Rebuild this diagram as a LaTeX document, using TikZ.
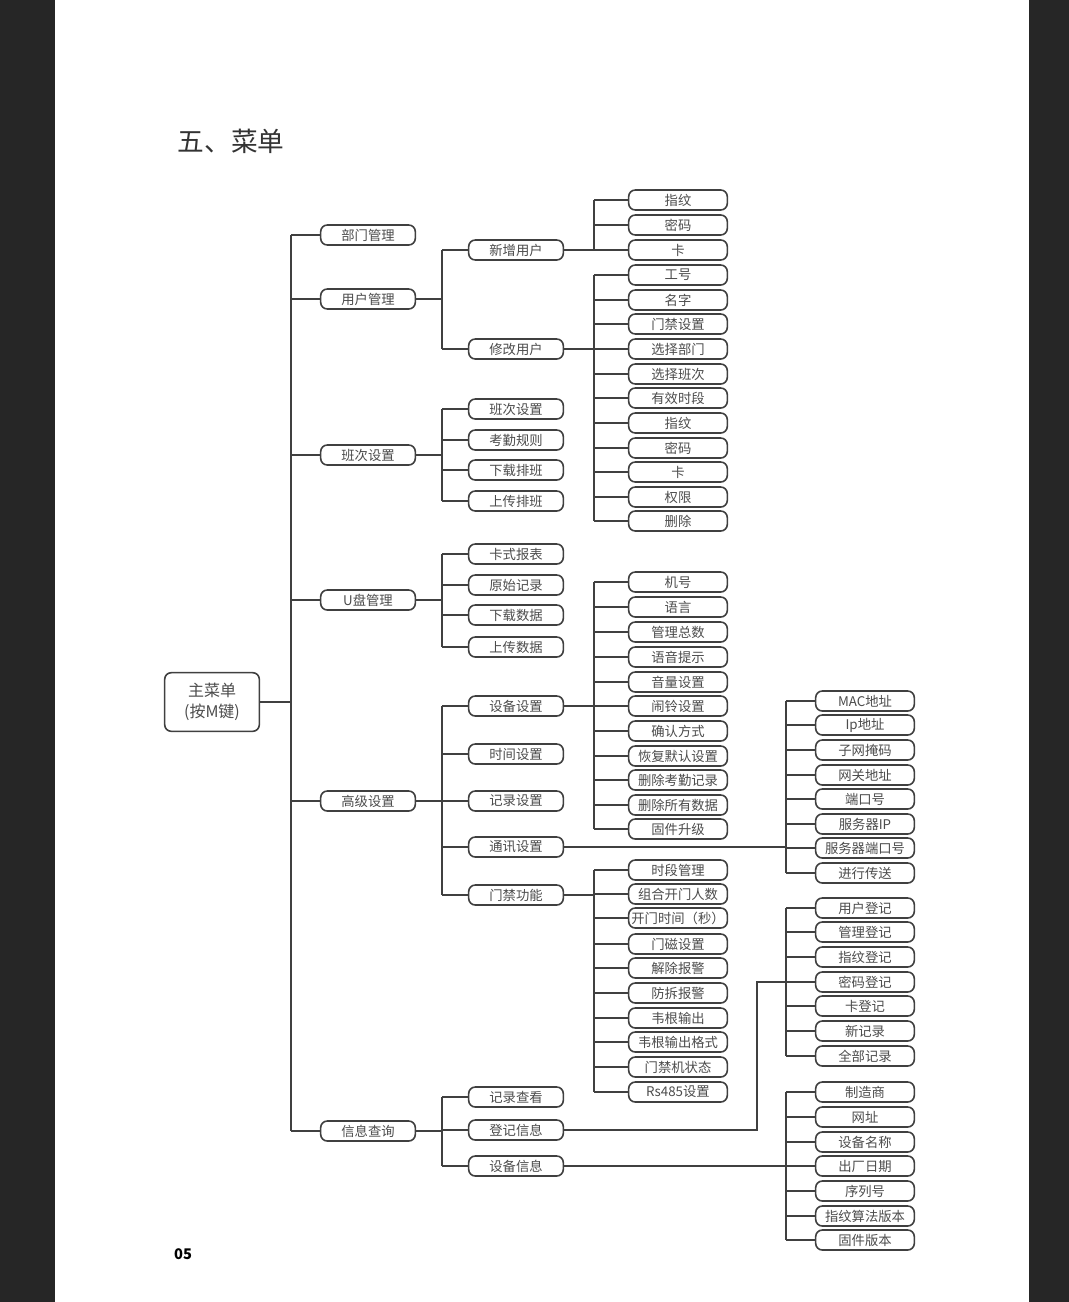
\documentclass[tikz,border=0pt]{standalone}
\usepackage{fontspec}
\setmainfont{Noto Sans CJK SC}
\usetikzlibrary{calc}
\tikzset{
 bx/.style={draw=black!75,line width=1.2pt,rounded corners=5pt,fill=white,text=black!70,font=\fontsize{10}{11}\selectfont,inner sep=0pt,minimum height=15pt},
 l1/.style={bx,minimum width=71pt},
 l2/.style={bx,minimum width=71pt},
 l3/.style={bx,minimum width=74pt},
 ln/.style={draw=black!75,line width=1pt}
}
\newcommand\Fan[5]{%
 \foreach \t/\y [count=\i] in {#5} {
  \node[#4] (#1\i) at (#3,\y) {\t};
  \draw[ln] (#1\i.west -| #2) -- (#1\i.west);
  \xdef\lastn{\i}
 }
 \draw[ln] (#2 |- #11.west) -- (#2 |- #1\lastn.west);
}
\begin{document}
\begin{tikzpicture}[x=0.75pt,y=-0.75pt]
\fill[black!85] (0,0) rectangle (1069,1302);
\fill[white] (55,0) rectangle (1029,1302);
\useasboundingbox (0,0) rectangle (1069,1302);
\node[font=\fontsize{20}{22}\selectfont,text=black!80] (title) at (231,141) {五、菜单};
\node[font=\bfseries\fontsize{11}{12}\selectfont] (pg) at (183,1254) {05};
\coordinate (b1) at (291,0);
\coordinate (b2) at (442,0);
\coordinate (b3) at (594,0);
\coordinate (b4) at (786,0);
\coordinate (b5) at (757,0);
\node[bx,minimum width=71pt,minimum height=44pt,align=center,font=\fontsize{12}{16}\selectfont] (root) at (212,702) {主菜单\\(按M键)};
\draw[ln] (root.east) -- (root.east -| b1);
\Fan{A}{b1}{368}{l1}{部门管理/235,用户管理/299,班次设置/455,U盘管理/600,高级设置/801,信息查询/1131}
% level 2
\Fan{B}{b2}{516}{l2}{新增用户/250,修改用户/349}
\draw[ln] (A2.east) -- (A2.east -| b2);
\Fan{C}{b2}{516}{l2}{班次设置/409,考勤规则/440,下载排班/470,上传排班/501}
\draw[ln] (A3.east) -- (A3.east -| b2);
\Fan{D}{b2}{516}{l2}{卡式报表/554,原始记录/585,下载数据/615,上传数据/647}
\draw[ln] (A4.east) -- (A4.east -| b2);
\Fan{E}{b2}{516}{l2}{设备设置/706,时间设置/754,记录设置/801,通讯设置/847,门禁功能/895}
\draw[ln] (A5.east) -- (A5.east -| b2);
\Fan{F}{b2}{516}{l2}{记录查看/1097,登记信息/1130,设备信息/1166}
\draw[ln] (A6.east) -- (A6.east -| b2);
% level 3
\Fan{G}{b3}{678}{l3}{指纹/200,密码/225,卡/250}
\draw[ln] (B1.east) -- (B1.east -| b3);
\Fan{H}{b3}{678}{l3}{工号/275,名字/300,门禁设置/324,选择部门/349,选择班次/374,有效时段/398,指纹/423,密码/448,卡/472,权限/497,删除/521}
\draw[ln] (B2.east) -- (B2.east -| b3);
\Fan{I}{b3}{678}{l3}{机号/582,语言/607,管理总数/632,语音提示/657,音量设置/682,闹铃设置/706,确认方式/731,恢复默认设置/756,删除考勤记录/780,删除所有数据/805,固件升级/829}
\draw[ln] (E1.east) -- (E1.east -| b3);
\Fan{J}{b3}{678}{l3}{时段管理/870,组合开门人数/894,开门时间（秒）/918,门磁设置/944,解除报警/968,防拆报警/993,韦根输出/1018,韦根输出格式/1042,门禁机状态/1067,Rs485设置/1092}
\draw[ln] (E5.east) -- (E5.east -| b3);
% level 4
\Fan{K}{b4}{865}{l3}{MAC地址/701,Ip地址/725,子网掩码/750,网关地址/775,端口号/799,服务器IP/824,服务器端口号/848,进行传送/873}
\draw[ln] (E4.east) -- (E4.east -| b4);
\Fan{L}{b4}{865}{l3}{用户登记/908,管理登记/932,指纹登记/957,密码登记/982,卡登记/1006,新记录/1031,全部记录/1056}
\draw[ln] (F2.east) -- (F2.east -| b5) -- (b5 |- L4.west) -- (L4.west -| b4);
\Fan{M}{b4}{865}{l3}{制造商/1092,网址/1117,设备名称/1142,出厂日期/1166,序列号/1191,指纹算法版本/1216,固件版本/1240}
\draw[ln] (F3.east) -- (F3.east -| b4);
\end{tikzpicture}
\end{document}
